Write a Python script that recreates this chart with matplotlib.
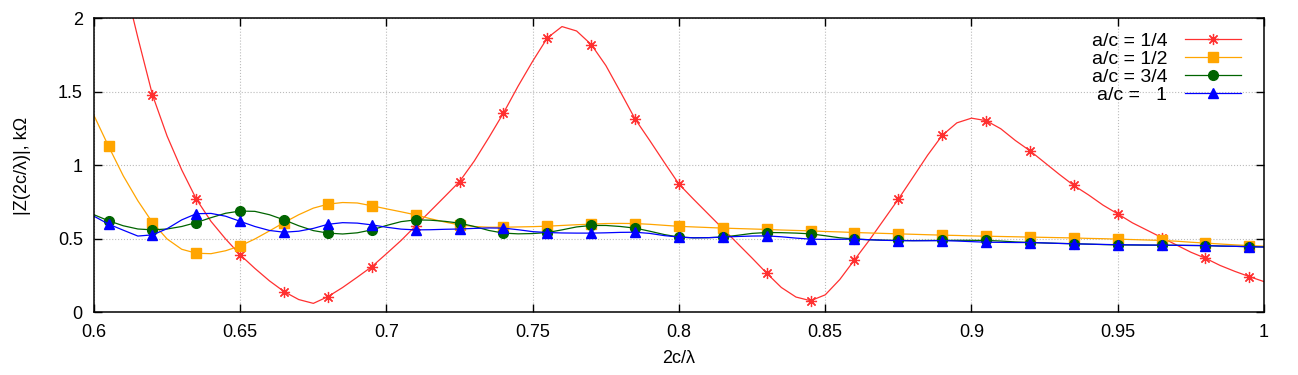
import matplotlib as mpl
mpl.use('Agg')
import matplotlib.pyplot as plt
import numpy as np

plt.rcParams['font.family'] = ['Liberation Sans', 'DejaVu Sans']

# sample grid 0.600 ... 1.000 (step 0.005); markers every 3rd sample from 0.605
x = np.linspace(0.6, 1.0, 81)

z_14 = [3.10, 2.68, 2.28, 1.87, 1.48, 1.20, 0.97, 0.771, 0.62, 0.50,
        0.392, 0.30, 0.215, 0.142, 0.088, 0.062, 0.108, 0.17, 0.24, 0.312,
        0.40, 0.49, 0.59, 0.69, 0.79, 0.891, 1.03, 1.19, 1.357, 1.54,
        1.71, 1.868, 1.945, 1.915, 1.823, 1.68, 1.50, 1.316, 1.17, 1.02,
        0.873, 0.77, 0.67, 0.57, 0.47, 0.37, 0.267, 0.17, 0.105, 0.08,
        0.12, 0.225, 0.358, 0.49, 0.63, 0.771, 0.92, 1.07, 1.205, 1.29,
        1.322, 1.305, 1.25, 1.17, 1.100, 1.02, 0.94, 0.864, 0.80, 0.73,
        0.671, 0.61, 0.56, 0.510, 0.46, 0.41, 0.369, 0.32, 0.28, 0.244,
        0.21]

z_12 = [1.34, 1.13, 0.93, 0.76, 0.612, 0.50, 0.43, 0.403, 0.40, 0.42,
        0.453, 0.50, 0.555, 0.612, 0.665, 0.71, 0.737, 0.748, 0.745, 0.726,
        0.705, 0.685, 0.664, 0.638, 0.615, 0.596, 0.585, 0.580, 0.580, 0.582,
        0.584, 0.587, 0.592, 0.597, 0.601, 0.605, 0.606, 0.605, 0.600, 0.593,
        0.586, 0.582, 0.578, 0.574, 0.571, 0.568, 0.565, 0.561, 0.558, 0.555,
        0.551, 0.548, 0.544, 0.541, 0.538, 0.535, 0.532, 0.529, 0.526, 0.524,
        0.521, 0.519, 0.517, 0.515, 0.513, 0.511, 0.509, 0.507, 0.504, 0.502,
        0.499, 0.496, 0.493, 0.490, 0.485, 0.478, 0.472, 0.466, 0.460, 0.455,
        0.451]

z_34 = [0.665, 0.624, 0.59, 0.568, 0.562, 0.568, 0.585, 0.612, 0.645, 0.675,
        0.690, 0.688, 0.665, 0.630, 0.590, 0.557, 0.540, 0.534, 0.542, 0.562,
        0.592, 0.618, 0.630, 0.628, 0.620, 0.608, 0.585, 0.558, 0.540, 0.535,
        0.537, 0.544, 0.562, 0.582, 0.592, 0.592, 0.585, 0.574, 0.553, 0.530,
        0.513, 0.508, 0.509, 0.513, 0.525, 0.538, 0.544, 0.543, 0.540, 0.535,
        0.522, 0.508, 0.500, 0.495, 0.492, 0.490, 0.489, 0.490, 0.490, 0.491,
        0.491, 0.490, 0.486, 0.480, 0.476, 0.473, 0.470, 0.468, 0.465, 0.462,
        0.460, 0.459, 0.458, 0.458, 0.457, 0.456, 0.455, 0.452, 0.450, 0.448,
        0.446]

z_1 = [0.655, 0.601, 0.56, 0.520, 0.528, 0.57, 0.63, 0.672, 0.674, 0.655,
       0.620, 0.585, 0.558, 0.546, 0.553, 0.572, 0.600, 0.611, 0.608, 0.596,
       0.580, 0.567, 0.562, 0.563, 0.566, 0.568, 0.572, 0.575, 0.574, 0.563,
       0.550, 0.544, 0.541, 0.540, 0.540, 0.542, 0.545, 0.546, 0.538, 0.523,
       0.513, 0.508, 0.509, 0.513, 0.517, 0.520, 0.521, 0.515, 0.506, 0.499,
       0.497, 0.498, 0.499, 0.495, 0.491, 0.489, 0.488, 0.488, 0.489, 0.486,
       0.482, 0.478, 0.477, 0.476, 0.476, 0.473, 0.470, 0.467, 0.465, 0.463,
       0.461, 0.460, 0.459, 0.458, 0.457, 0.456, 0.455, 0.452, 0.450, 0.447,
       0.445]

labels = ['a/c = 1/4', 'a/c = 1/2', 'a/c = 3/4', 'a/c =   1']
xticks = [0.6, 0.65, 0.7, 0.75, 0.8, 0.85, 0.9, 0.95, 1.0]
xticklabels = ['0.6', '0.65', '0.7', '0.75', '0.8', '0.85', '0.9', '0.95', '1']
yticks = [0, 0.5, 1, 1.5, 2]
yticklabels = ['0', '0.5', '1', '1.5', '2']

fig = plt.figure(figsize=(12.98, 3.75), dpi=100)
ax = fig.add_axes([0.0724, 0.1667, 0.9014, 0.784])

every = slice(1, None, 3)
ax.plot(x, z_14, color='#ff3030', lw=0.9, marker=(8, 2, 0), ms=8, mew=0.9,
        markevery=every, label=labels[0])
ax.plot(x, z_12, color='#ffa500', lw=0.9, marker='s', ms=6.5,
        markevery=every, label=labels[1])
ax.plot(x, z_34, color='#006400', lw=0.9, marker='o', ms=7,
        markevery=every, label=labels[2])
ax.plot(x, z_1, color='#0000ff', lw=0.9, marker='^', ms=6.5,
        markevery=every, label=labels[3])

ax.set_xlim(0.6, 1.0)
ax.set_ylim(0, 2)
ax.set_xticks(xticks)
ax.set_xticklabels(xticklabels)
ax.set_yticks(yticks)
ax.set_yticklabels(yticklabels)
ax.tick_params(direction='in', length=6, width=1, top=True, right=True,
               labelsize=13, pad=8)
ax.grid(True, color='#bbbbbb', ls=':', lw=0.8)
for s in ax.spines.values():
    s.set_linewidth(1.1)

ax.set_xlabel('2c/\u03bb', fontsize=13, labelpad=7)
ax.set_ylabel('|Z(2c/\u03bb)|, k\u03a9', fontsize=13, labelpad=19)

ax.legend(loc='upper right', frameon=False, markerfirst=False, fontsize=14,
          handlelength=2.9, handletextpad=0.9, labelspacing=0.03,
          borderaxespad=0.3, bbox_to_anchor=(0.992, 1.0))

plt.savefig('out.png', dpi=100)
